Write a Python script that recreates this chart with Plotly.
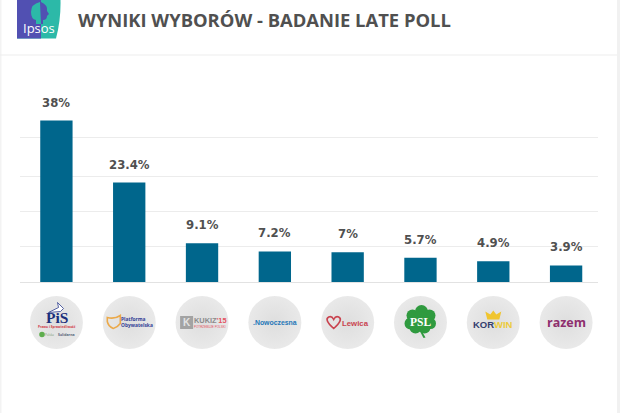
import plotly.graph_objects as go

parties = ["PiS", "Platforma Obywatelska", "Kukiz'15", "Nowoczesna", "Lewica", "PSL", "Korwin", "Razem"]
results = [38, 23.4, 9.1, 7.2, 7, 5.7, 4.9, 3.9]
labels = ["38%", "23.4%", "9.1%", "7.2%", "7%", "5.7%", "4.9%", "3.9%"]
grid_values = [8.4, 16.6, 24.8, 34]
title_text = "WYNIKI WYBORÓW - BADANIE LATE POLL"

W, H = 620, 413
BASE = 282
L, R, T, B = 20, 22, 90, 43
PW, PH = W - L - R, H - T - B
SCALE = 4.25  # px per percentage point
STEP = 72.8


def fx(px):
    return (px - L) / PW


def fy(py):
    return (H - B - py) / PH


def rect(x0, y0, x1, y1, color, layer="above"):
    return dict(type="rect", xref="paper", yref="paper", x0=fx(x0), x1=fx(x1), y0=fy(y0), y1=fy(y1),
                fillcolor=color, line_width=0, layer=layer)


def path(points, color, line=None, width=0, layer="above"):
    s = ""
    for tok in points:
        if isinstance(tok, str):
            s += tok + " "
        else:
            s += f"{fx(tok[0]):.5f},{fy(tok[1]):.5f} "
    return dict(type="path", xref="paper", yref="paper", path=s.strip(), fillcolor=color,
                line=dict(color=line or color, width=width), layer=layer)


def circle(cx, cy, r, color):
    return dict(type="circle", xref="paper", yref="paper", x0=fx(cx - r), x1=fx(cx + r),
                y0=fy(cy - r), y1=fy(cy + r), fillcolor=color, line_width=0, layer="above")


def text(x, y, s, size, color, family="Open Sans", anchor="center"):
    return dict(xref="paper", yref="paper", x=fx(x), y=fy(y), text=s, showarrow=False, xanchor=anchor,
                yanchor="middle", font=dict(size=size, color=color, family=family), borderpad=0, borderwidth=0)


fig = go.Figure()
fig.add_bar(x=list(range(len(parties))), y=results, width=0.444, marker=dict(color="#00668c", line_width=0),
            hovertext=parties)
logo_y = -40.5 / SCALE
fig.add_scatter(x=list(range(len(parties))), y=[logo_y] * len(parties), mode="markers",
                marker=dict(size=53, color="#e9e9e9", line_width=0,
                            gradient=dict(type="radial", color="#dedede")),
                hoverinfo="skip")

annotations = [
    dict(x=i, y=v, xref="x", yref="y", text=f"<b>{t}</b>", showarrow=False, yanchor="bottom", yshift=9,
         font=dict(family="DejaVu Sans", size=11.7, color="#505050"))
    for i, (v, t) in enumerate(zip(results, labels))
]
annotations.append(dict(xref="paper", yref="paper", x=fx(75.5), y=fy(19), xanchor="left", yanchor="middle",
                        text=f"<b>{title_text}</b>", showarrow=False,
                        font=dict(family="Open Sans", size=18.4, color="#505050")))

shapes = [
    rect(617, 0, 620, 413, "#f1f1f1", "below"),
    rect(0, 0, 1.5, 413, "#f3f3f3", "below"),
    rect(0, 54.5, 617, 55.5, "#eeeeee", "below"),
    # Ipsos logo
    path(["M", (17, 0), "L", (60.5, 0), "Q", (61, 20), (56, 38.5), "L", (17, 38.5), "Z"], "#2cb9a8"),
    path(["M", (17, 0), "L", (41, 0), "L", (41, 38.5), "L", (17, 38.5), "Z"], "#5150b2"),
    path(["M", (40, 2), "Q", (31, 4), (31, 12), "Q", (31, 19), (36, 20), "L", (36, 24), "L", (41, 24), "Z"], "#2cb9a8"),
    path(["M", (41, 2), "Q", (48, 5), (47, 11), "L", (49, 14), "L", (47, 16), "Q", (47, 20), (43, 20), "L", (43, 24), "L", (41, 24), "Z"], "#5150b2"),
]

c = [56.5 + STEP * i for i in range(8)]
cy = 322.5
annotations.append(text(38.5, 28, "Ipsos", 13, "#ffffff", "Open Sans"))

# PiS
shapes.append(path(["M", (c[0] - 8, cy - 10), "L", (c[0] + 2, cy - 15), "L", (c[0] + 1, cy - 20), "L", (c[0] + 7, cy - 14), "L", (c[0] + 4, cy - 11), "Z"], "#ffffff", "#2f3f8f", 0.8))
annotations.append(text(c[0], cy - 5.5, "<b>PiS</b>", 15.5, "#1c2f7c", "Liberation Serif"))
annotations.append(text(c[0], cy + 4.5, "<b>Prawo i Sprawiedliwość</b>", 3.2, "#d23a45"))
shapes.append(circle(c[0] - 14.5, cy + 12, 2.8, "#5fae4e"))
annotations.append(text(c[0] - 7.5, cy + 12, "Polska", 3, "#7d9c74"))
annotations.append(text(c[0] + 10, cy + 12, "<b>Solidarna</b>", 3.5, "#55607a"))

# Platforma
shapes.append(path(["M", (c[1] - 22, cy - 5), "Q", (c[1] - 15, cy - 3), (c[1] - 9, cy - 7), "L", (c[1] - 9, cy + 1), "Q", (c[1] - 12, cy + 5), (c[1] - 16, cy + 6), "Q", (c[1] - 21, cy + 4), (c[1] - 22, cy - 1), "Z"], "rgba(0,0,0,0)", "#eba94a", 1.6))
annotations.append(text(c[1] - 8, cy - 3.2, "<b>Platforma</b>", 4.9, "#343f96", "Open Sans", "left"))
annotations.append(text(c[1] - 8, cy + 2.6, "<b>Obywatelska</b>", 4.9, "#343f96", "Open Sans", "left"))

# Kukiz
shapes.append(rect(c[2] - 22, cy - 6.5, c[2] - 9, cy + 6.5, "#a3a3a3"))
annotations.append(text(c[2] - 15.5, cy, "<b>K</b>", 10, "#e3e3e3", "Liberation Sans"))
annotations.append(text(c[2] - 8.5, cy - 2, '<b>KUKIZ<span style="color:#e4525f">\'15</span></b>', 7.4, "#8b8b8b", "Liberation Sans", "left"))
annotations.append(text(c[2] - 8.5, cy + 4.5, "POTRZEBUJE POLSKI", 3, "#e4525f", "Liberation Sans", "left"))

# Nowoczesna
annotations.append(text(c[3], cy, "<b>.Nowoczesna</b>", 6.9, "#2577b8", "Liberation Sans"))

# Lewica
shapes.append(path(["M", (c[4] - 14, cy + 6), "Q", (c[4] - 24, cy - 3), (c[4] - 19, cy - 5.5), "Q", (c[4] - 16, cy - 7), (c[4] - 14, cy - 3), "Q", (c[4] - 12, cy - 7), (c[4] - 9, cy - 5.5), "Q", (c[4] - 4, cy - 3), (c[4] - 14, cy + 6), "Z"], "rgba(0,0,0,0)", "#c9434f", 1.6))
annotations.append(text(c[4] - 6, cy + 0.5, "<b>Lewica</b>", 7.8, "#c9434f", "Liberation Sans", "left"))

# PSL clover
for dx, dy, r in [(-8, -6, 6), (1, -10, 6.5), (9, -6, 6), (-10, 2, 6), (10, 2, 5.5), (-5, 6, 6), (4, 6, 6), (0, -1, 9)]:
    shapes.append(circle(c[5] + dx, cy - 1 + dy, r, "#2f9a3f"))
shapes.append(path(["M", (c[5] + 1, cy + 8), "L", (c[5] + 5, cy + 15), "L", (c[5] + 3, cy + 15.5), "L", (c[5] - 1, cy + 8), "Z"], "#2f9a3f"))
annotations.append(text(c[5], cy - 1, "<b>PSL</b>", 11.5, "#ffffff", "Liberation Serif"))

# Korwin
shapes.append(path(["M", (c[6] - 6, cy - 3), "L", (c[6] - 8, cy - 11), "L", (c[6] - 3, cy - 8), "L", (c[6], cy - 12), "L", (c[6] + 3, cy - 8), "L", (c[6] + 8, cy - 11), "L", (c[6] + 6, cy - 3), "Z"], "#f0c52e"))
annotations.append(text(c[6], cy + 1.5, '<b>KOR<span style="color:#eccb3c">WIN</span></b>', 9.5, "#34406f", "Liberation Sans"))

# Razem
annotations.append(text(c[7], cy - 0.5, "<b>razem</b>", 12.5, "#8e2f6e", "Open Sans"))

fig.update_layout(
    width=W, height=H, autosize=False,
    margin=dict(l=L, r=R, t=T, b=B, pad=0),
    paper_bgcolor="#ffffff", plot_bgcolor="#ffffff",
    showlegend=False, shapes=shapes, annotations=annotations,
    xaxis=dict(range=[-0.5, (W - R - c[0]) / STEP], showgrid=False, showticklabels=False, ticks="", zeroline=False,
               showline=False, fixedrange=True),
    yaxis=dict(range=[-(H - B - BASE) / SCALE, (BASE - T) / SCALE], tickmode="array", tickvals=grid_values,
               showticklabels=False, ticks="", gridcolor="#ececec", gridwidth=1, zeroline=True,
               zerolinecolor="#e2e2e2", zerolinewidth=1, showline=False, fixedrange=True),
)
fig.write_html("out.html", config=dict(displayModeBar=False),
               post_script="document.body.style.margin='0';document.documentElement.style.overflow='hidden';")
